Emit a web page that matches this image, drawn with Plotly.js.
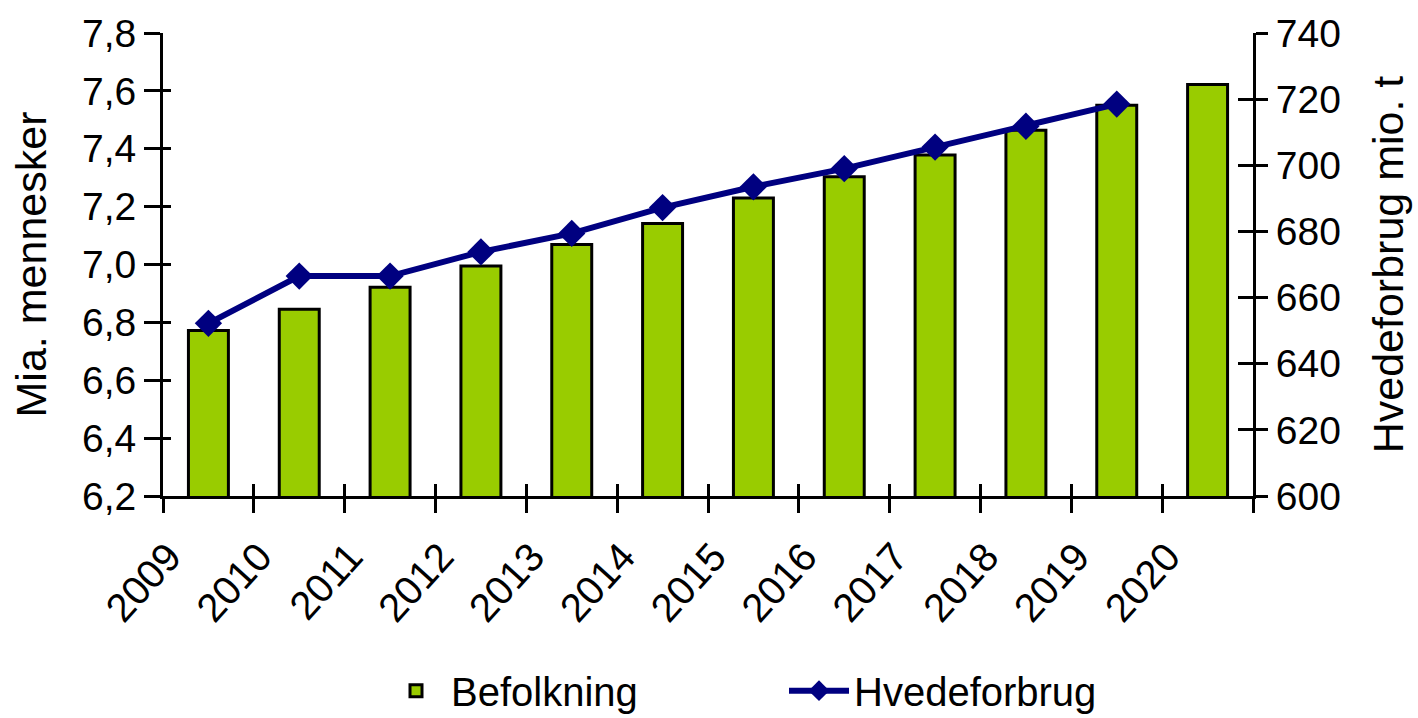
<!DOCTYPE html>
<html>
<head>
<meta charset="utf-8">
<script src="https://cdn.plot.ly/plotly-3.0.1.min.js"></script>
<style>html,body{margin:0;padding:0;background:#fff}#chart{width:1418px;height:718px}</style>
</head>
<body>
<div id="chart"></div>
<script>
const years = [2009, 2010, 2011, 2012, 2013, 2014, 2015, 2016, 2017, 2018, 2019, 2020];
const yearLabels = ["2009","2010","2011","2012","2013","2014","2015","2016","2017","2018","2019","2020"];
const befolkning = [6.772, 6.845, 6.921, 6.995, 7.069, 7.142, 7.230, 7.303, 7.378, 7.464, 7.550, 7.622];
const lineYears = [2009, 2010, 2011, 2012, 2013, 2014, 2015, 2016, 2017, 2018, 2019];
const hvedeforbrug = [652.2, 666.5, 666.5, 673.8, 679.4, 687.2, 693.5, 699.0, 705.5, 711.8, 718.5];

const FONT = "Liberation Sans, Arial, sans-serif";
const fs = 39;
const tfs = 43;

const traces = [
  {type:'bar', name:'Befolkning', x: years, y: befolkning, xaxis:'x', yaxis:'y',
   width: 0.44, marker:{color:'#99CC00', line:{color:'#000000', width:3}}},
  {type:'scatter', mode:'lines+markers', name:'Hvedeforbrug', x: lineYears, y: hvedeforbrug,
   xaxis:'x', yaxis:'y2', line:{color:'#000080', width:6},
   marker:{symbol:'diamond', size:21, color:'#000080'}},
  {type:'scatter', x:[], y:[], xaxis:'x2', yaxis:'y3', showlegend:false, hoverinfo:'skip'},
  {type:'scatter', x:[], y:[], xaxis:'x3', yaxis:'y4', showlegend:false, hoverinfo:'skip'}
];

const xr = [years[0]-0.5, years[years.length-1]+0.5];
const lr = [6.2, 7.8];
const rr = [600, 740];
const layout = {
  width:1418, height:718,
  margin:{l:163, r:165, t:33, b:222},
  paper_bgcolor:'#fff', plot_bgcolor:'rgba(0,0,0,0)',
  separators:',.',
  font:{family:FONT, size:fs, color:'#000'},
  showlegend:true,
  bargap:0,
  legend:{orientation:'h', x:0.2, xanchor:'left', yref:'container', y:0.038, yanchor:'middle',
          font:{family:FONT, size:40}, entrywidth:328, itemwidth:60, traceorder:'normal'},
  xaxis:{type:'linear', range:xr, tickmode:'array', tickvals:years, ticktext:yearLabels,
         ticks:'', tickangle:-48, ticklabelshift:-40, ticklabelstandoff:18, automargin:false,
         showline:true, linecolor:'#000', linewidth:3, showgrid:false, zeroline:false,
         tickfont:{family:FONT, size:fs+1}, fixedrange:true},
  xaxis2:{overlaying:'x', anchor:'y', side:'bottom', range:xr, tick0:xr[0], dtick:1, automargin:false,
          ticks:'outside', ticklen:16, tickwidth:3, tickcolor:'#000', showticklabels:false,
          showline:false, showgrid:false, zeroline:false},
  xaxis3:{overlaying:'x', anchor:'y', side:'bottom', range:xr, tick0:xr[0], dtick:1, automargin:false,
          ticks:'inside', ticklen:12, tickwidth:3, tickcolor:'#000', showticklabels:false,
          showline:false, showgrid:false, zeroline:false},
  yaxis:{range:lr, dtick:0.2, tick0:6.2, tickformat:'.1f', ticks:'outside', ticklen:16, automargin:false,
         tickwidth:3, tickcolor:'#000', showline:true, linecolor:'#000', linewidth:3,
         showgrid:false, zeroline:false, tickfont:{family:FONT, size:fs},
         title:{text:'Mia. mennesker', font:{family:FONT, size:tfs}, standoff:22}},
  yaxis3:{overlaying:'y', anchor:'x2', side:'left', range:lr, dtick:0.2, tick0:6.2, automargin:false,
          ticks:'inside', ticklen:8, tickwidth:3, tickcolor:'#000', showticklabels:false,
          showline:false, showgrid:false, zeroline:false},
  yaxis2:{overlaying:'y', side:'right', anchor:'x', range:rr, dtick:20, tick0:600, automargin:false,
          ticks:'outside', ticklen:12, tickwidth:3, tickcolor:'#000', showline:true,
          linecolor:'#000', linewidth:3, showgrid:false, zeroline:false,
          tickfont:{family:FONT, size:fs},
          title:{text:'Hvedeforbrug mio. t', font:{family:FONT, size:tfs}, standoff:34}},
  yaxis4:{overlaying:'y', side:'right', anchor:'x3', range:rr, dtick:20, tick0:600, automargin:false,
          ticks:'inside', ticklen:15, tickwidth:3, tickcolor:'#000', showticklabels:false,
          showline:false, showgrid:false, zeroline:false}
};

Plotly.newPlot('chart', traces, layout, {displayModeBar:false, staticPlot:true});
</script>
</body>
</html>
